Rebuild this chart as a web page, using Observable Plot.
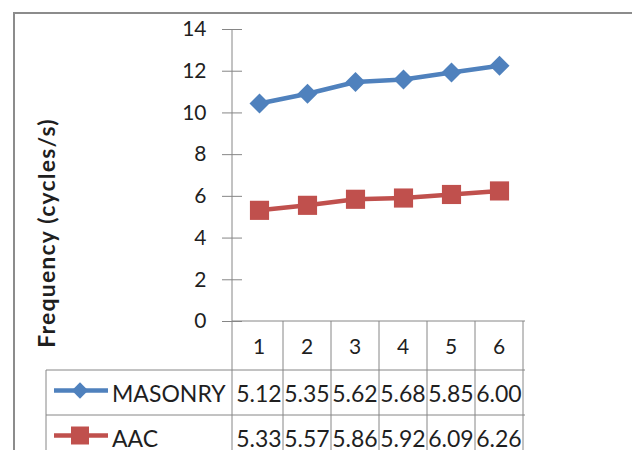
<!DOCTYPE html>
<html><head><meta charset="utf-8">
<script src="https://cdn.jsdelivr.net/npm/d3@7"></script>
<script src="https://cdn.jsdelivr.net/npm/@observablehq/plot@0.6"></script>
<style>body{margin:0;background:#fff} #chart svg{display:block}</style>
</head><body><div id="chart"></div>
<script>
const categories = [1, 2, 3, 4, 5, 6];
const masonry = [5.12, 5.35, 5.62, 5.68, 5.85, 6.00];
const aac = [5.33, 5.57, 5.86, 5.92, 6.09, 6.26];
const seriesNames = ["MASONRY", "AAC"];
const yTicks = [0, 2, 4, 6, 8, 10, 12, 14];
const yLabel = "Frequency (cycles/s)";

const seriesValues = {MASONRY: masonry, AAC: aac};
const colors = ["#4F81BD", "#C0504D"];
const rows = [];
seriesNames.forEach(s => categories.forEach((c, i) => rows.push({series: s, cat: c, value: seriesValues[s][i]})));

const font = "Lato, 'Open Sans', sans-serif";
const textColor = "#1f1f1f";
const lineColor = "#868686";
const stackOpts = {x: "cat", y: "value", z: "series", order: ["AAC", "MASONRY"]};

const plot = Plot.plot({
  width: 632, height: 450,
  marginTop: 29, marginBottom: 129, marginLeft: 232, marginRight: 107,
  style: {fontFamily: font, background: "#fff", overflow: "visible"},
  x: {type: "band", domain: categories, padding: 0, axis: null},
  y: {domain: [0, 14], axis: null},
  color: {domain: seriesNames, range: colors},
  symbol: {domain: seriesNames, range: ["diamond2", "square"]},
  r: {type: "identity"},
  marks: [
    Plot.axisY(yTicks, {tickSize: 20, dx: 10, tickPadding: 16, fontSize: 21, stroke: lineColor, fill: textColor, label: null}),
    Plot.lineY(rows, Plot.stackY2({...stackOpts, stroke: "series", strokeWidth: 4.5})),
    Plot.dot(rows, Plot.stackY2({...stackOpts, fill: "series", symbol: "series", r: d => d.series === "MASONRY" ? 9 : 10.8, stroke: null}))
  ]
});
document.getElementById("chart").appendChild(plot);

// data table and frame, positioned with the plot's own scales
const svg = d3.select(plot);
const xs = plot.scale("x"), ys = plot.scale("y");
const x0 = xs.range[0], x1 = xs.range[1], bw = xs.bandwidth;
const top0 = ys.apply(0), yTop = ys.apply(14);
const headerH = 49, rowH = 45, boxLeft = 46, bottom = 470;
const g = svg.append("g").attr("stroke", lineColor).attr("stroke-width", 1).attr("fill", "none");
g.append("line").attr("x1", x0).attr("x2", x0).attr("y1", yTop).attr("y2", bottom);
g.append("line").attr("x1", x0).attr("x2", x1).attr("y1", top0).attr("y2", top0);
[1, 2].forEach(k => g.append("line").attr("x1", boxLeft).attr("x2", x1).attr("y1", top0 + headerH + (k - 1) * rowH).attr("y2", top0 + headerH + (k - 1) * rowH));
categories.forEach(c => {
  const xe = xs.apply(c) + bw;
  g.append("line").attr("x1", xe).attr("x2", xe).attr("y1", top0).attr("y2", bottom);
});
g.append("line").attr("x1", boxLeft).attr("x2", boxLeft).attr("y1", top0 + headerH).attr("y2", bottom);

const t = svg.append("g").attr("fill", textColor).attr("font-family", font).attr("text-anchor", "start");
categories.forEach(c => t.append("text").attr("x", xs.apply(c) + bw / 2).attr("y", top0 + headerH / 2).attr("text-anchor", "middle").attr("dominant-baseline", "central").attr("font-size", 21).text(c));
seriesNames.forEach((s, k) => {
  const cy = top0 + headerH + k * rowH + rowH / 2;
  seriesValues[s].forEach((v, i) => t.append("text").attr("x", xs.apply(categories[i]) + bw / 2).attr("y", cy).attr("text-anchor", "middle").attr("dominant-baseline", "central").attr("font-size", 23).text(v.toFixed(2)));
  t.append("text").attr("x", 112).attr("y", cy).attr("text-anchor", "start").attr("dominant-baseline", "central").attr("font-size", 23).text(s);
  svg.append("line").attr("x1", 54).attr("x2", 108).attr("y1", cy - 2).attr("y2", cy - 2).attr("stroke", colors[k]).attr("stroke-width", 4.5);
  if (s === "MASONRY") svg.append("path").attr("d", d3.symbol(d3.symbolDiamond2, 170)()).attr("transform", `translate(80,${cy - 2})`).attr("fill", colors[k]);
  else svg.append("path").attr("d", d3.symbol(d3.symbolSquare, 324)()).attr("transform", `translate(80,${cy - 2})`).attr("fill", colors[k]);
});
t.append("text").attr("transform", `translate(55,233) rotate(-90)`).attr("text-anchor", "middle").attr("font-weight", "bold").attr("font-size", 23).attr("letter-spacing", 1.2).text(yLabel);

svg.append("rect").attr("x", 14).attr("y", 13).attr("width", 700).attr("height", 500).attr("fill", "none").attr("stroke", "#8c8c8c").attr("stroke-width", 2);
</script></body></html>
